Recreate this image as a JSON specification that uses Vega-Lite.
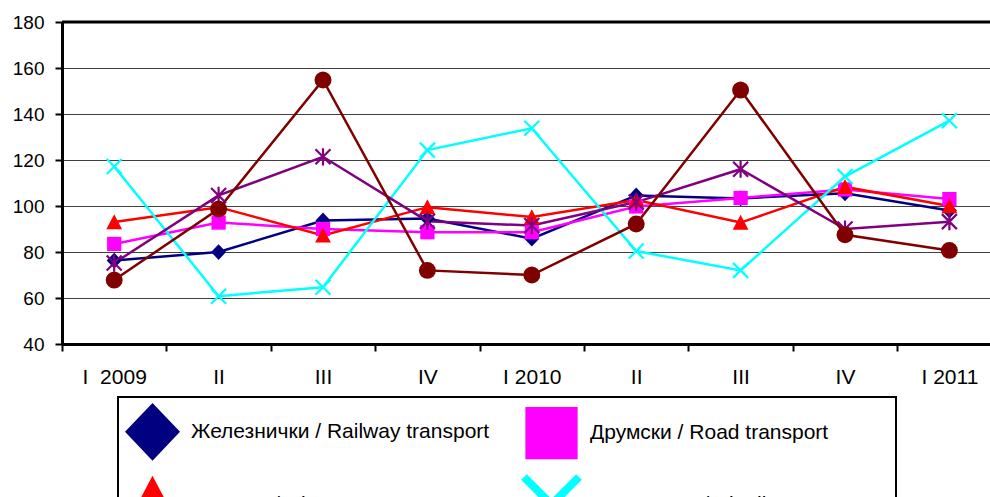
{
  "$schema": "https://vega.github.io/schema/vega-lite/v6.json",
  "width": 939.6,
  "height": 322,
  "autosize": {"type": "none"},
  "padding": {"left": 62, "top": 22, "right": -11.6, "bottom": 153},
  "background": "white",
  "config": {
    "view": {"stroke": null},
    "font": "Liberation Sans",
    "axisX": {"domainColor": "black", "domainWidth": 3, "tickColor": "black", "tickWidth": 2, "tickSize": 7, "labelPadding": 15, "labelFont": "Liberation Sans", "labelFontSize": 21, "labelColor": "black", "labelAngle": 0, "grid": false},
    "axisY": {"domainColor": "black", "domainWidth": 3, "tickColor": "black", "tickWidth": 2, "tickSize": 7, "labelPadding": 11, "labelFont": "Liberation Sans", "labelFontSize": 19, "labelColor": "black", "grid": true, "gridColor": "#404040", "gridWidth": 1.2}
  },
  "datasets": {
    "d": [
      {"period": "I 2009", "series": "Железнички / Railway transport", "value": 76.3},
      {"period": "II 2009", "series": "Железнички / Railway transport", "value": 80},
      {"period": "III 2009", "series": "Железнички / Railway transport", "value": 93.7},
      {"period": "IV 2009", "series": "Железнички / Railway transport", "value": 94.6},
      {"period": "I 2010", "series": "Железнички / Railway transport", "value": 85.8},
      {"period": "II 2010", "series": "Железнички / Railway transport", "value": 104.6},
      {"period": "III 2010", "series": "Железнички / Railway transport", "value": 103.3},
      {"period": "IV 2010", "series": "Железнички / Railway transport", "value": 105.5},
      {"period": "I 2011", "series": "Железнички / Railway transport", "value": 98},
      {"period": "I 2009", "series": "Друмски / Road transport", "value": 83.5},
      {"period": "II 2009", "series": "Друмски / Road transport", "value": 92.8},
      {"period": "III 2009", "series": "Друмски / Road transport", "value": 90},
      {"period": "IV 2009", "series": "Друмски / Road transport", "value": 88.6},
      {"period": "I 2010", "series": "Друмски / Road transport", "value": 88.6},
      {"period": "II 2010", "series": "Друмски / Road transport", "value": 99.8},
      {"period": "III 2010", "series": "Друмски / Road transport", "value": 103.5},
      {"period": "IV 2010", "series": "Друмски / Road transport", "value": 107.2},
      {"period": "I 2011", "series": "Друмски / Road transport", "value": 103},
      {"period": "I 2009", "series": "Градски / City transport", "value": 93},
      {"period": "II 2009", "series": "Градски / City transport", "value": 99.5},
      {"period": "III 2009", "series": "Градски / City transport", "value": 87.2},
      {"period": "IV 2009", "series": "Градски / City transport", "value": 99.5},
      {"period": "I 2010", "series": "Градски / City transport", "value": 95.2},
      {"period": "II 2010", "series": "Градски / City transport", "value": 102.6},
      {"period": "III 2010", "series": "Градски / City transport", "value": 92.8},
      {"period": "IV 2010", "series": "Градски / City transport", "value": 108.3},
      {"period": "I 2011", "series": "Градски / City transport", "value": 100},
      {"period": "I 2009", "series": "Цевоводни / Pipelines transport", "value": 117.2},
      {"period": "II 2009", "series": "Цевоводни / Pipelines transport", "value": 60.8},
      {"period": "III 2009", "series": "Цевоводни / Pipelines transport", "value": 64.7},
      {"period": "IV 2009", "series": "Цевоводни / Pipelines transport", "value": 124.3},
      {"period": "I 2010", "series": "Цевоводни / Pipelines transport", "value": 133.8},
      {"period": "II 2010", "series": "Цевоводни / Pipelines transport", "value": 80.4},
      {"period": "III 2010", "series": "Цевоводни / Pipelines transport", "value": 72},
      {"period": "IV 2010", "series": "Цевоводни / Pipelines transport", "value": 112.8},
      {"period": "I 2011", "series": "Цевоводни / Pipelines transport", "value": 137.1},
      {"period": "I 2009", "series": "Речни / Inland waterway transport", "value": 75.2},
      {"period": "II 2009", "series": "Речни / Inland waterway transport", "value": 104.6},
      {"period": "III 2009", "series": "Речни / Inland waterway transport", "value": 121.4},
      {"period": "IV 2009", "series": "Речни / Inland waterway transport", "value": 93.4},
      {"period": "I 2010", "series": "Речни / Inland waterway transport", "value": 91.5},
      {"period": "II 2010", "series": "Речни / Inland waterway transport", "value": 101.7},
      {"period": "III 2010", "series": "Речни / Inland waterway transport", "value": 116},
      {"period": "IV 2010", "series": "Речни / Inland waterway transport", "value": 90},
      {"period": "I 2011", "series": "Речни / Inland waterway transport", "value": 93.2},
      {"period": "I 2009", "series": "Ваздушни / Air transport", "value": 67.8},
      {"period": "II 2009", "series": "Ваздушни / Air transport", "value": 98.7},
      {"period": "III 2009", "series": "Ваздушни / Air transport", "value": 154.8},
      {"period": "IV 2009", "series": "Ваздушни / Air transport", "value": 72},
      {"period": "I 2010", "series": "Ваздушни / Air transport", "value": 70},
      {"period": "II 2010", "series": "Ваздушни / Air transport", "value": 92.2},
      {"period": "III 2010", "series": "Ваздушни / Air transport", "value": 150.4},
      {"period": "IV 2010", "series": "Ваздушни / Air transport", "value": 87.5},
      {"period": "I 2011", "series": "Ваздушни / Air transport", "value": 80.7}
    ]
  },
  "layer": [
    {
      "data": {"name": "d"},
      "mark": {"type": "point", "filled": true, "size": 225, "opacity": 0, "strokeWidth": 0},
      "encoding": {
        "x": {
          "field": "period",
          "type": "nominal",
          "sort": ["I 2009", "II 2009", "III 2009", "IV 2009", "I 2010", "II 2010", "III 2010", "IV 2010", "I 2011"],
          "scale": {"paddingInner": 0, "paddingOuter": 0},
          "axis": {
            "title": null, "labelAngle": 0, "tickBand": "extent", "domainColor": "black", "domainWidth": 3, "tickColor": "black", "tickWidth": 2, "tickSize": 7, "labelPadding": 15, "labelFont": "Liberation Sans", "labelFontSize": 21, "labelColor": "black", "grid": false,
            "labelExpr": "isString(datum.value) ? (datum.value == 'I 2009' ? 'I\u00a0 2009' : (indexof(datum.value, 'I 20') == 0 ? datum.value : split(datum.value, ' ')[0])) : ''"
          }
        },
        "y": {
          "field": "value",
          "type": "quantitative",
          "scale": {"domain": [40, 180], "nice": false, "zero": false},
          "axis": {"title": null, "values": [40, 60, 80, 100, 120, 140, 160, 180], "domainColor": "black", "domainWidth": 3, "tickColor": "black", "tickWidth": 2, "tickSize": 7, "labelPadding": 11, "labelFont": "Liberation Sans", "labelFontSize": 19, "labelColor": "black", "grid": true, "gridColor": "#404040", "gridWidth": 1.2}
        },
        "color": {
          "field": "series",
          "type": "nominal",
          "scale": {
            "domain": ["Железнички / Railway transport", "Друмски / Road transport", "Градски / City transport", "Цевоводни / Pipelines transport", "Речни / Inland waterway transport", "Ваздушни / Air transport"],
            "range": ["#000080", "#FF00FF", "#FF0000", "#00FFFF", "#800080", "#800000"]
          },
          "legend": {
            "title": null,
            "orient": "none",
            "legendX": 56,
            "legendY": 375,
            "columns": 2,
            "direction": "horizontal",
            "columnPadding": 12,
            "rowPadding": 13,
            "padding": 7,
            "symbolSize": 3025,
            "symbolStrokeWidth": 0,
            "symbolOpacity": 1,
            "labelFont": "Liberation Sans",
            "labelFontSize": 21,
            "labelColor": "black",
            "labelLimit": 1000,
            "labelOffset": 11,
            "strokeColor": "black",
            "encode": {
              "legend": {"update": {"strokeWidth": {"value": 2}}},
              "symbols": {
                "update": {
                  "size": {"value": 3025},
                  "opacity": {"value": 1},
                  "shape": {"signal": "datum.value == 'Железнички / Railway transport' ? 'M-1,-0.04L1,-0.04L1,0.04L-1,0.04ZM0,-0.29L0.27,0L0,0.29L-0.27,0Z' : datum.value == 'Друмски / Road transport' ? 'M-1,-0.04L1,-0.04L1,0.04L-1,0.04ZM-0.255,-0.255L0.255,-0.255L0.255,0.255L-0.255,0.255Z' : datum.value == 'Градски / City transport' ? 'M-1,-0.04L1,-0.04L1,0.04L-1,0.04ZM0,-0.28L0.28,0.25L-0.28,0.25Z' : datum.value == 'Цевоводни / Pipelines transport' ? 'M-1,-0.04L1,-0.04L1,0.04L-1,0.04ZM-0.224,-0.276L0.276,0.224L0.224,0.276L-0.276,-0.224ZM0.276,-0.224L-0.224,0.276L-0.276,0.224L0.224,-0.276Z' : datum.value == 'Речни / Inland waterway transport' ? 'M-1,-0.04L1,-0.04L1,0.04L-1,0.04ZM-0.224,-0.276L0.276,0.224L0.224,0.276L-0.276,-0.224ZM0.276,-0.224L-0.224,0.276L-0.276,0.224L0.224,-0.276ZM-0.036,-0.29L0.036,-0.29L0.036,0.29L-0.036,0.29Z' : 'M-1,-0.04L1,-0.04L1,0.04L-1,0.04ZM0.29,0L0.268,0.111L0.205,0.205L0.111,0.268L0,0.29L-0.111,0.268L-0.205,0.205L-0.268,0.111L-0.29,0L-0.268,-0.111L-0.205,-0.205L-0.111,-0.268L0,-0.29L0.111,-0.268L0.205,-0.205L0.268,-0.111Z'"}
                }
              }
            }
          }
        }
      }
    },
    {
      "data": {"name": "d"},
      "mark": {"type": "line", "strokeWidth": 2.5},
      "encoding": {
        "x": {
          "field": "period",
          "type": "nominal",
          "sort": ["I 2009", "II 2009", "III 2009", "IV 2009", "I 2010", "II 2010", "III 2010", "IV 2010", "I 2011"],
          "scale": {"paddingInner": 0, "paddingOuter": 0},
          "axis": {
            "title": null, "labelAngle": 0, "tickBand": "extent", "domainColor": "black", "domainWidth": 3, "tickColor": "black", "tickWidth": 2, "tickSize": 7, "labelPadding": 15, "labelFont": "Liberation Sans", "labelFontSize": 21, "labelColor": "black", "grid": false,
            "labelExpr": "isString(datum.value) ? (datum.value == 'I 2009' ? 'I\u00a0 2009' : (indexof(datum.value, 'I 20') == 0 ? datum.value : split(datum.value, ' ')[0])) : ''"
          }
        },
        "y": {
          "field": "value",
          "type": "quantitative",
          "scale": {"domain": [40, 180], "nice": false, "zero": false},
          "axis": {"title": null, "values": [40, 60, 80, 100, 120, 140, 160, 180], "domainColor": "black", "domainWidth": 3, "tickColor": "black", "tickWidth": 2, "tickSize": 7, "labelPadding": 11, "labelFont": "Liberation Sans", "labelFontSize": 19, "labelColor": "black", "grid": true, "gridColor": "#404040", "gridWidth": 1.2}
        },
        "color": {"field": "series", "type": "nominal", "legend": null}
      }
    },
    {
      "data": {"values": [{"top": 180}]},
      "mark": {"type": "rule", "color": "black", "strokeWidth": 3},
      "encoding": {"y": {"field": "top", "type": "quantitative"}}
    },
    {
      "data": {"name": "d"},
      "mark": {"type": "point", "filled": true, "size": 225, "opacity": 1, "strokeWidth": 0},
      "encoding": {
        "x": {
          "field": "period",
          "type": "nominal",
          "sort": ["I 2009", "II 2009", "III 2009", "IV 2009", "I 2010", "II 2010", "III 2010", "IV 2010", "I 2011"],
          "scale": {"paddingInner": 0, "paddingOuter": 0},
          "axis": {
            "title": null, "labelAngle": 0, "tickBand": "extent", "domainColor": "black", "domainWidth": 3, "tickColor": "black", "tickWidth": 2, "tickSize": 7, "labelPadding": 15, "labelFont": "Liberation Sans", "labelFontSize": 21, "labelColor": "black", "grid": false,
            "labelExpr": "isString(datum.value) ? (datum.value == 'I 2009' ? 'I\u00a0 2009' : (indexof(datum.value, 'I 20') == 0 ? datum.value : split(datum.value, ' ')[0])) : ''"
          }
        },
        "y": {
          "field": "value",
          "type": "quantitative",
          "scale": {"domain": [40, 180], "nice": false, "zero": false},
          "axis": {"title": null, "values": [40, 60, 80, 100, 120, 140, 160, 180], "domainColor": "black", "domainWidth": 3, "tickColor": "black", "tickWidth": 2, "tickSize": 7, "labelPadding": 11, "labelFont": "Liberation Sans", "labelFontSize": 19, "labelColor": "black", "grid": true, "gridColor": "#404040", "gridWidth": 1.2}
        },
        "color": {"field": "series", "type": "nominal", "legend": null},
        "shape": {
          "field": "series",
          "type": "nominal",
          "scale": {
            "domain": ["Железнички / Railway transport", "Друмски / Road transport", "Градски / City transport", "Цевоводни / Pipelines transport", "Речни / Inland waterway transport", "Ваздушни / Air transport"],
            "range": [
              "M0,-1.05L1,0L0,1.05L-1,0Z",
              "M-0.95,-0.95L0.95,-0.95L0.95,0.95L-0.95,0.95Z",
              "M0,-1.05L1.05,0.95L-1.05,0.95Z",
              "M-0.896,-1.104L1.104,0.896L0.896,1.104L-1.104,-0.896ZM1.104,-0.896L-0.896,1.104L-1.104,0.896L0.896,-1.104Z",
              "M-0.896,-1.104L1.104,0.896L0.896,1.104L-1.104,-0.896ZM1.104,-0.896L-0.896,1.104L-1.104,0.896L0.896,-1.104ZM-0.147,-1.15L0.147,-1.15L0.147,1.15L-0.147,1.15Z",
              "M1.13,0L1.044,0.432L0.799,0.799L0.432,1.044L0,1.13L-0.432,1.044L-0.799,0.799L-1.044,0.432L-1.13,0L-1.044,-0.432L-0.799,-0.799L-0.432,-1.044L0,-1.13L0.432,-1.044L0.799,-0.799L1.044,-0.432Z"
            ]
          },
          "legend": null
        }
      }
    }
  ]
}
